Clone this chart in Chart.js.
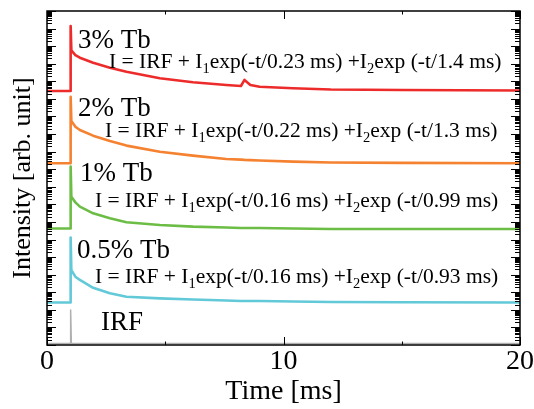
<!DOCTYPE html>
<html>
<head>
<meta charset="utf-8">
<script src="https://cdn.jsdelivr.net/npm/chart.js@4.4.0/dist/chart.umd.min.js"></script>
<style>
  body { margin: 0; background: #fff; }
</style>
</head>
<body>
<canvas id="myChart" width="534" height="409"></canvas>
<script>
// temps (ms) communs à toutes les courbes
const timesMs = [0, 0.98, 1.0, 1.03, 1.2, 1.39, 1.95, 2.66, 3.36, 4.77, 6.17, 7.58, 8.2, 8.35, 8.6, 8.99, 10.4, 12, 15, 20];

// intensités (échelle log, courbes décalées)
const tb3  = [2.8e14, 2.8e14, 1.4e18, 5.7e16, 3.1e16, 2.2e16, 1.15e16, 6.0e15, 3.5e15, 1.5e15, 8.8e14, 6.2e14, 5.4e14, 1.2e15, 6.2e14, 4.9e14, 4.0e14, 3.4e14, 3.2e14, 3.0e14];
const tb2  = [2.2e10, 2.2e10, 1.3e14, 5.5e12, 2.6e12, 1.7e12, 8.1e11, 4.0e11, 2.2e11, 9.9e10, 5.9e10, 3.8e10, 3.5e10, 3.4e10, 3.3e10, 3.1e10, 2.7e10, 2.4e10, 2.3e10, 2.2e10];
const tb1  = [4.2e6, 4.2e6, 1.4e10, 2.7e8, 1.3e8, 7.4e7, 3.1e7, 1.6e7, 9.6e6, 6.7e6, 5.4e6, 4.8e6, 4.5e6, 4.5e6, 4.5e6, 4.5e6, 4.2e6, 4.0e6, 4.0e6, 4.0e6];
const tb05 = [260, 260, 1.3e6, 1.8e4, 7.7e3, 5.0e3, 1.8e3, 870, 560, 450, 390, 340, 320, 320, 320, 320, 300, 280, 270, 260];
const irf  = [1.2, 1.2, 98, 1.2, 1.2, 1.2, 1.2, 1.2, 1.2, 1.2, 1.2, 1.2, 1.2, 1.2, 1.2, 1.2, 1.2, 1.2, 1.2, 1.2];

const seriesLabels = ["3% Tb", "2% Tb", "1% Tb", "0.5% Tb", "IRF"];
const tau1 = ["0.23", "0.22", "0.16", "0.16"];
const tau2 = ["1.4", "1.3", "0.99", "0.93"];
const xTickLabels = [0, 10, 20];

const toPoints = arr => arr.map((v, i) => ({x: timesMs[i], y: v}));

const serif = "'Liberation Serif', 'DejaVu Serif', serif";

// cadre + graduations vers l'intérieur + textes
const framePlugin = {
    id: 'frame',
    afterDraw(chart) {
        const ctx = chart.ctx;
        const a = chart.chartArea;
        const xs = chart.scales.x;
        const ys = chart.scales.y;
        ctx.save();
        ctx.strokeStyle = '#000';
        ctx.lineWidth = 1;
        ctx.beginPath();
        ys.ticks.forEach(t => {
            const v = t.value;
            const e = Math.floor(Math.log10(v) + 1e-9);
            const m = v / Math.pow(10, e);
            if (Math.abs(m - 1.5) < 0.01) return;
            const major = Math.abs(m - 1) < 0.01 || Math.abs(m - 10) < 0.01;
            const py = Math.round(ys.getPixelForValue(v)) + 0.5;
            const len = major ? 9 : 5;
            ctx.moveTo(a.left, py); ctx.lineTo(a.left + len, py);
            ctx.moveTo(a.right, py); ctx.lineTo(a.right - len, py);
        });
        xs.ticks.forEach(t => {
            const px = Math.round(xs.getPixelForValue(t.value)) + 0.5;
            const len = t.value % 10 === 0 ? 8 : 3.5;
            ctx.moveTo(px, a.bottom); ctx.lineTo(px, a.bottom - len);
            ctx.moveTo(px, a.top); ctx.lineTo(px, a.top + len);
        });
        ctx.stroke();
        ctx.lineWidth = 1.5;
        ctx.strokeRect(a.left, a.top, a.right - a.left, a.bottom - a.top);

        // étiquettes
        ctx.fillStyle = '#000';
        ctx.textBaseline = 'alphabetic';
        ctx.font = '27px ' + serif;
        const labelPos = [[78, 48], [78, 116], [80, 181], [77, 258], [101, 330]];
        seriesLabels.forEach((s, i) => ctx.fillText(s, labelPos[i][0], labelPos[i][1]));

        const eqPos = [[109, 68], [105, 137], [95, 207], [95, 283]];
        tau1.forEach((t1, i) => {
            let x = eqPos[i][0];
            const y = eqPos[i][1];
            const parts = [
                ["I = IRF + I", false],
                ["1", true],
                ["exp(-t/" + t1 + " ms) +I", false],
                ["2", true],
                ["exp (-t/" + tau2[i] + " ms)", false]
            ];
            parts.forEach(([txt, sub]) => {
                ctx.font = (sub ? '14.5px ' : '21.5px ') + serif;
                ctx.fillText(txt, x, sub ? y + 5 : y);
                x += ctx.measureText(txt).width;
            });
        });
        ctx.restore();
    }
};

const colors = ["#ee2b2b", "#f58230", "#6cbd45", "#62c9d8", "#b0b0b0"];
const allData = [tb3, tb2, tb1, tb05, irf];

const chartData = {
    datasets: allData.map((arr, i) => ({
        label: seriesLabels[i],
        data: toPoints(arr),
        borderColor: colors[i],
        borderWidth: i === 4 ? 1.5 : 2.6,
        borderJoinStyle: 'round',
        pointRadius: 0,
        fill: false,
        tension: 0
    }))
};

const config = {
    type: 'line',
    data: chartData,
    options: {
        responsive: false,
        animation: false,
        layout: { padding: { top: 11, right: 13, left: 0, bottom: 0 } },
        plugins: { legend: { display: false }, tooltip: { enabled: false } },
        scales: {
            x: {
                type: 'linear',
                min: 0,
                max: 20,
                grid: { display: false, drawTicks: false },
                border: { display: false },
                ticks: {
                    stepSize: 5,
                    padding: 0,
                    maxRotation: 0,
                    autoSkip: false,
                    color: '#000',
                    font: { family: serif, size: 28 },
                    callback: v => xTickLabels.includes(v) ? String(v) : ''
                },
                title: {
                    display: true,
                    text: 'Time [ms]',
                    color: '#000',
                    font: { family: serif, size: 28 },
                    padding: { top: 0, bottom: 1 }
                },
                afterFit: s => { s.height = 64; }
            },
            y: {
                type: 'logarithmic',
                min: 1,
                max: 1e19,
                grid: { display: false, drawTicks: false },
                border: { display: false },
                ticks: { display: false },
                title: {
                    display: true,
                    text: 'Intensity [arb. unit]',
                    color: '#000',
                    font: { family: serif, size: 26 },
                    padding: { top: 8, bottom: 0 }
                },
                afterFit: s => { s.width = 47; }
            }
        }
    },
    plugins: [framePlugin]
};

const monGraph = new Chart(document.getElementById('myChart'), config);
</script>
</body>
</html>
